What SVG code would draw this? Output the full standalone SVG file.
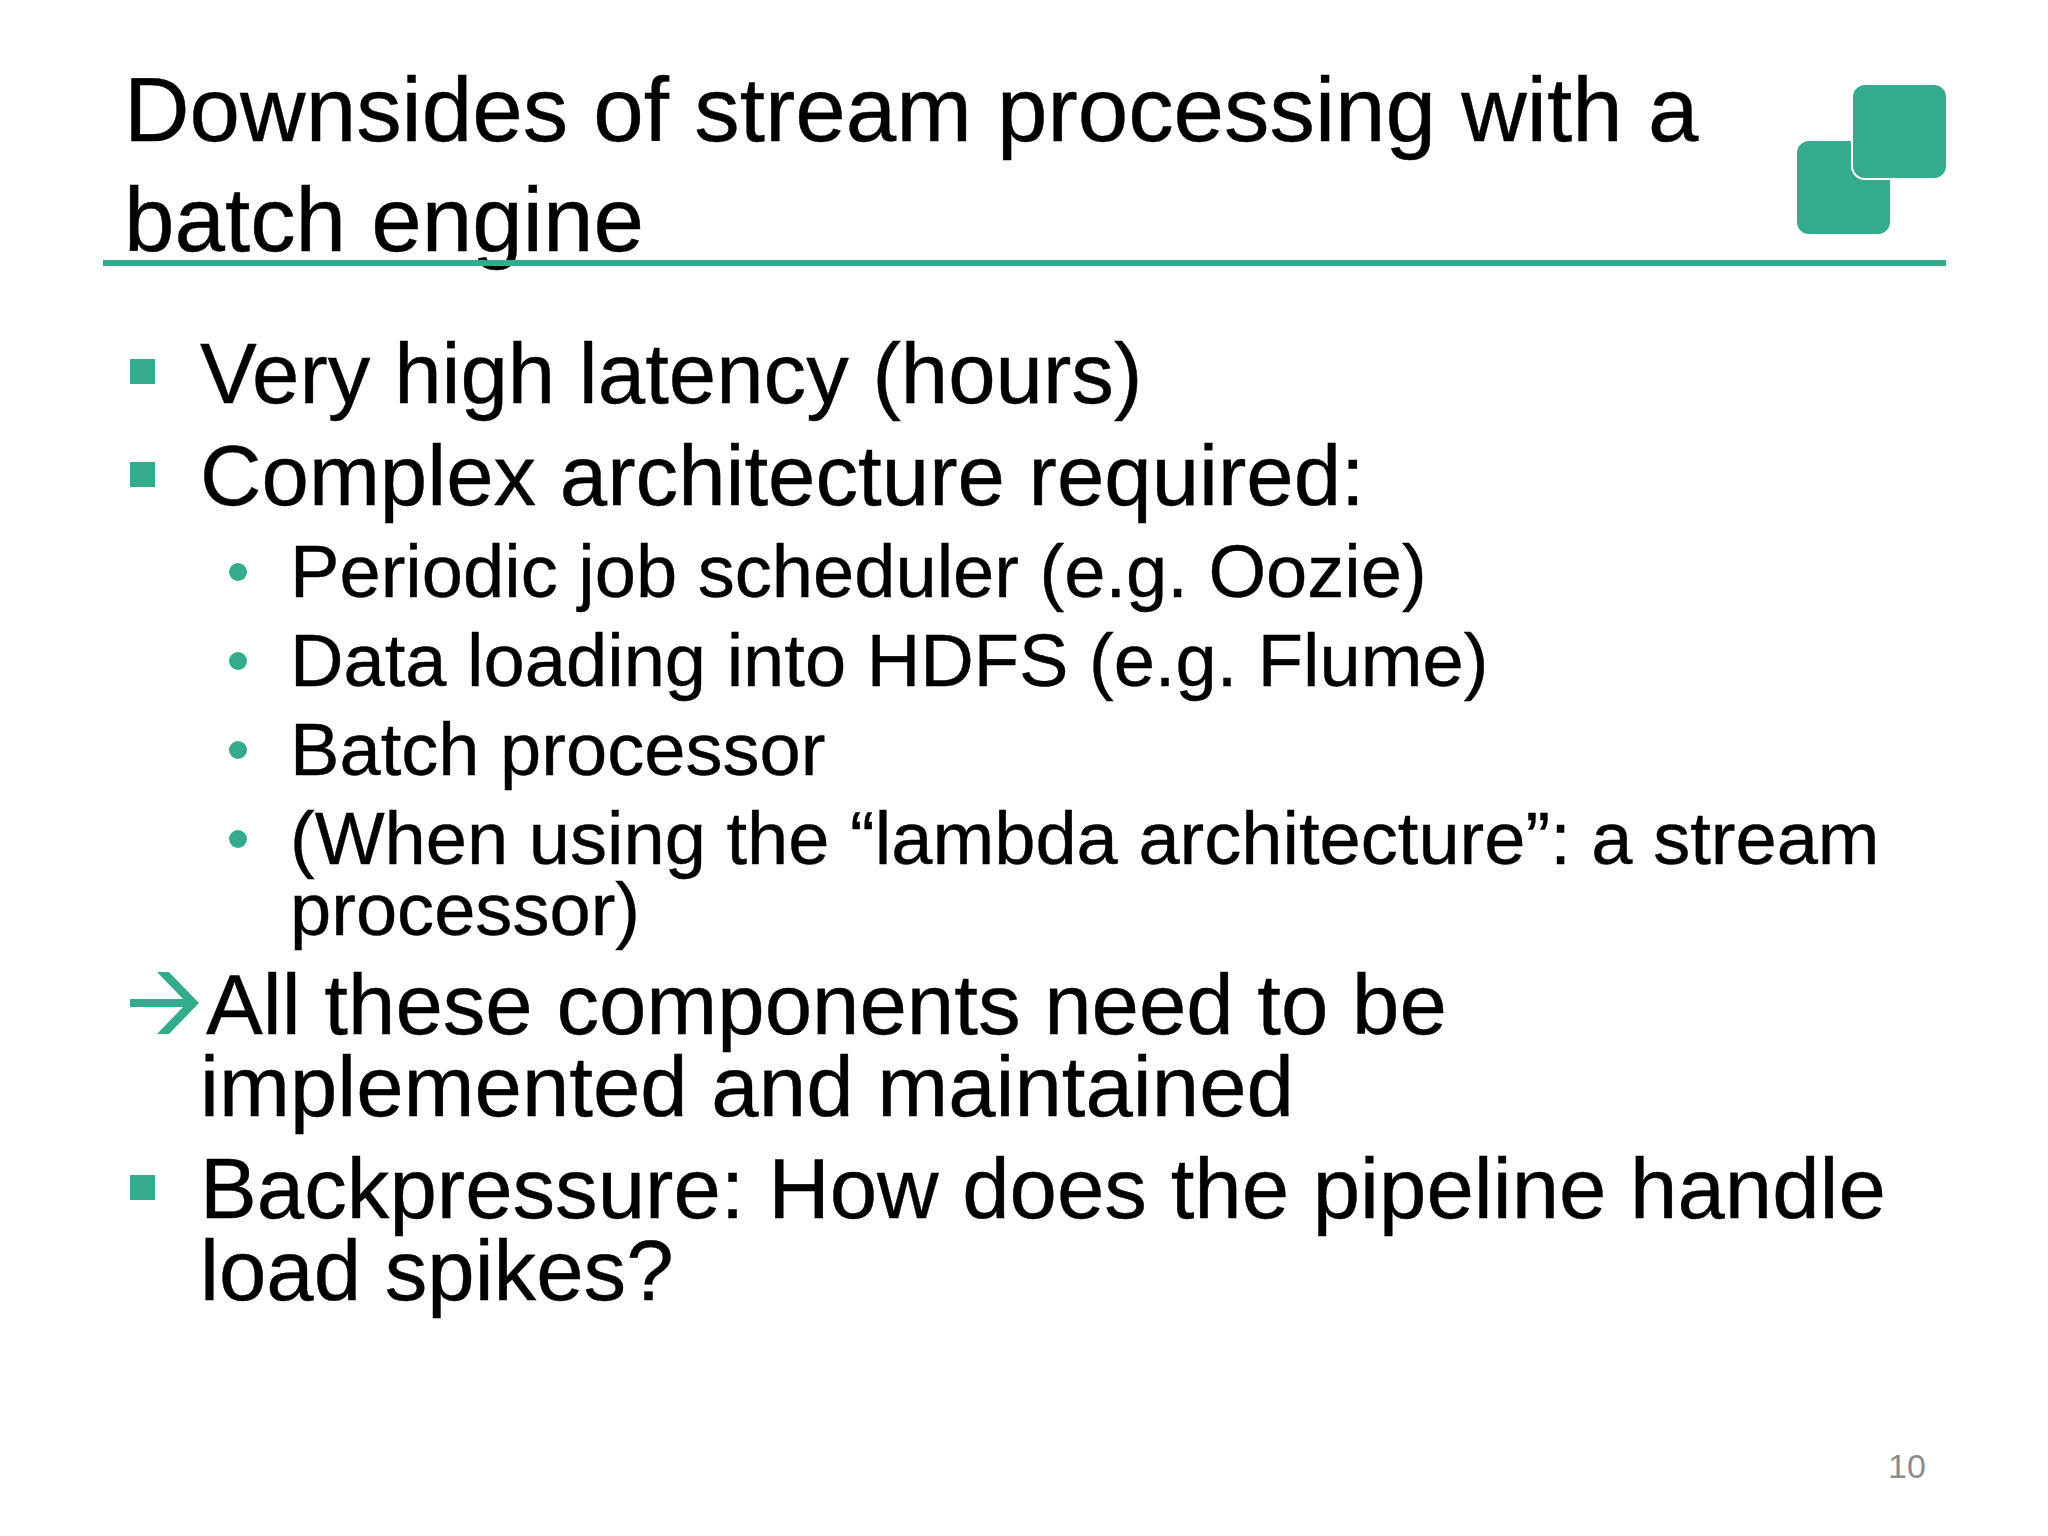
<svg xmlns="http://www.w3.org/2000/svg" width="2048" height="1536" viewBox="0 0 2048 1536">
<style>
text{font-family:"Liberation Sans",Arial,sans-serif;fill:#000;stroke:#000;stroke-width:.4}
.t{font-size:90.8px}
.a{font-size:85.2px}
.b{font-size:74.1px}
.g{fill:#34ab8c}
</style>
<rect width="2048" height="1536" fill="#fff"/>
<g id="title">
<text class="t" x="124" y="141">Downsides of stream processing with a</text>
<text class="t" x="124" y="251">batch engine</text>
<rect class="g" x="103" y="260" width="1843" height="6"/>
</g>
<g id="logo">
<rect class="g" x="1797" y="141" width="93" height="93" rx="12"/>
<rect x="1851" y="83" width="97" height="97" rx="14" fill="#fff"/>
<rect class="g" x="1853" y="85" width="93" height="93" rx="12"/>
</g>
<g id="body">
<rect class="g" x="130" y="359" width="25" height="25"/>
<text class="a" x="200" y="403">Very high latency (hours)</text>
<rect class="g" x="130" y="462" width="25" height="25"/>
<text class="a" x="200" y="505">Complex architecture required:</text>
<circle class="g" cx="238" cy="572" r="9"/>
<text class="b" x="290" y="597">Periodic job scheduler (e.g. Oozie)</text>
<circle class="g" cx="238" cy="661" r="9"/>
<text class="b" x="290" y="686">Data loading into HDFS (e.g. Flume)</text>
<circle class="g" cx="238" cy="750" r="9"/>
<text class="b" x="290" y="775">Batch processor</text>
<circle class="g" cx="238" cy="839" r="9"/>
<text class="b" x="290" y="864">(When using the “lambda architecture”: a stream</text>
<text class="b" x="290" y="935">processor)</text>
<polygon class="g" points="130,999 183,999 157,972 169,972 199,1003 169,1034 157,1034 183,1007 130,1007"/>
<text class="a" x="206" y="1034">All these components need to be</text>
<text class="a" x="200" y="1116">implemented and maintained</text>
<rect class="g" x="130" y="1175" width="25" height="25"/>
<text class="a" x="200" y="1218">Backpressure: How does the pipeline handle</text>
<text class="a" x="200" y="1300">load spikes?</text>
</g>
<text x="1888" y="1478" style="font-size:34px;fill:#8c8c8c;stroke:none">10</text>
</svg>
